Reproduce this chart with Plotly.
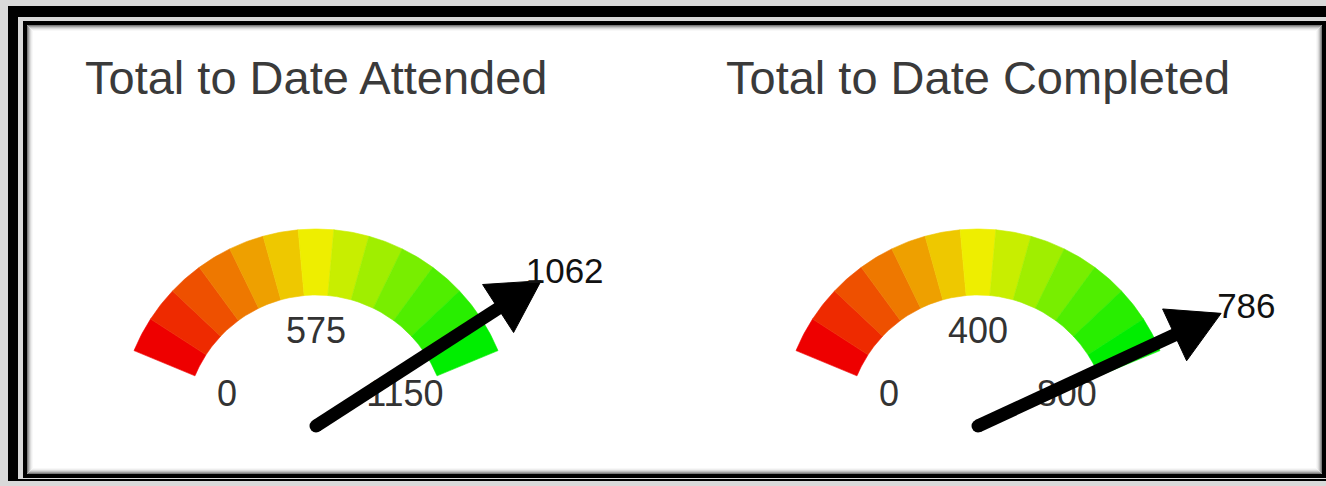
import numpy as np
import plotly.graph_objects as go

# ---------------- data ----------------
titles = ["Total to Date Attended", "Total to Date Completed"]
values = [1062, 786]
max_values = [1150, 800]
tick_labels = [["0", "575", "1150"], ["0", "400", "800"]]
band_colors = ["#EE0000", "#EE2A00", "#EE5000", "#EE7800", "#EEA000", "#EEC800",
               "#EEEE00", "#C8EE00", "#A0EE00", "#78EE00", "#50EE00", "#28EE00", "#00EE00"]

# ---------------- layout constants ----------------
W, H = 1326, 486
R_PX = 197.0                 # outer radius in px
INNER = 0.665                # inner radius (fraction of outer)
START_DEG, SPAN_DEG = 157.5, 135.0
centers_px = [(316, 426), (978, 426)]
domains_px = [(0, 663), (663, 1326)]
NEEDLE_LEN = 1.36
HEAD_LEN = 0.26
HEAD_HALF = 0.145
TICK_R = 0.48
TICK_PAD_DEG = 2.5           # tick labels sit slightly beyond the band ends
TICK_DY = -3 / R_PX
VALUE_R = 1.49
VALUE_DX, VALUE_DY = 2 / R_PX, -7 / R_PX
FONT = "Liberation Sans, Arial, sans-serif"


def theta(v, vmax, pad=0.0):
    return np.deg2rad(START_DEG + pad - (SPAN_DEG + 2 * pad) * v / vmax)


fig = go.Figure()

for g in range(2):
    xa = "x" if g == 0 else "x2"
    ya = "y" if g == 0 else "y2"
    vmax = max_values[g]
    n = len(band_colors)
    # colour bands
    for k, col in enumerate(band_colors):
        t = np.linspace(theta(k * vmax / n, vmax), theta((k + 1) * vmax / n, vmax), 12)
        xs = np.concatenate([np.cos(t), INNER * np.cos(t[::-1])])
        ys = np.concatenate([np.sin(t), INNER * np.sin(t[::-1])])
        fig.add_trace(go.Scatter(x=np.append(xs, xs[0]), y=np.append(ys, ys[0]),
                                 mode="lines", fill="toself", fillcolor=col,
                                 line=dict(color=col, width=0.6), hoverinfo="skip",
                                 showlegend=False, xaxis=xa, yaxis=ya))
    # tick labels at 0, mid, max
    tick_vals = [0, vmax / 2, vmax]
    tt = np.array([theta(v, vmax, TICK_PAD_DEG) for v in tick_vals])
    fig.add_trace(go.Scatter(x=TICK_R * np.cos(tt), y=TICK_R * np.sin(tt) + TICK_DY, mode="text",
                             text=tick_labels[g], textposition="middle center",
                             textfont=dict(family=FONT, size=36, color="#333333"),
                             hoverinfo="skip", showlegend=False, xaxis=xa, yaxis=ya))
    # needle
    a = theta(values[g], vmax)
    ux, uy = np.cos(a), np.sin(a)
    base_r = NEEDLE_LEN - HEAD_LEN
    fig.add_trace(go.Scatter(x=[0, base_r * ux + 0.02 * ux], y=[0, base_r * uy + 0.02 * uy],
                             mode="lines", line=dict(color="black", width=13),
                             hoverinfo="skip", showlegend=False, xaxis=xa, yaxis=ya))
    fig.add_trace(go.Scatter(x=[0], y=[0], mode="markers",
                             marker=dict(color="black", size=13, line=dict(width=0)),
                             hoverinfo="skip", showlegend=False, xaxis=xa, yaxis=ya))
    px_, py_ = -uy, ux
    hx = [NEEDLE_LEN * ux, base_r * ux + HEAD_HALF * px_, base_r * ux - HEAD_HALF * px_, NEEDLE_LEN * ux]
    hy = [NEEDLE_LEN * uy, base_r * uy + HEAD_HALF * py_, base_r * uy - HEAD_HALF * py_, NEEDLE_LEN * uy]
    fig.add_trace(go.Scatter(x=hx, y=hy, mode="lines", fill="toself", fillcolor="black",
                             line=dict(color="black", width=1), hoverinfo="skip",
                             showlegend=False, xaxis=xa, yaxis=ya))
    # value label
    fig.add_trace(go.Scatter(x=[VALUE_R * ux + VALUE_DX], y=[VALUE_R * uy + VALUE_DY], mode="text",
                             text=[str(values[g])], textposition="middle center",
                             textfont=dict(family=FONT, size=35, color="#111111"),
                             hoverinfo="skip", showlegend=False, xaxis=xa, yaxis=ya))


def pxx(x):
    return x / W


def pxy(y):
    return 1 - y / H


shapes = []


def rect(x0, y0, x1, y1, fill=None, line=None, lw=0):
    d = dict(type="rect", xref="paper", yref="paper", x0=pxx(x0), x1=pxx(x1),
             y0=pxy(y1), y1=pxy(y0), layer="below")
    if fill:
        d["fillcolor"] = fill
    d["line"] = dict(color=line or "rgba(0,0,0,0)", width=lw)
    shapes.append(d)


rect(8, 6, 1400, 481, fill="#000000")
rect(18, 17, 1400, 479, fill="#d9d9d9")
rect(23, 21, 1400, 478, fill="#000000")
rect(27, 25, 1322, 474, fill="#ffffff")
for i, c in enumerate(["#7a7a7a", "#a0a0a0", "#c2c2c2", "#dcdcdc", "#eeeeee", "#f8f8f8"]):
    rect(27 + i + 0.5, 25 + i + 0.5, 1322 - i - 0.5, 474 - i - 0.5, line=c, lw=1)

annotations = []
for g in range(2):
    annotations.append(dict(text=titles[g], xref="paper", yref="paper",
                            x=pxx(centers_px[g][0]), y=pxy(77), xanchor="center", yanchor="middle",
                            showarrow=False, font=dict(family=FONT, size=47, color="#3a3a3a")))

layout_axes = {}
for g in range(2):
    cx, cy = centers_px[g]
    d0, d1 = domains_px[g]
    sx = "xaxis" if g == 0 else "xaxis2"
    sy = "yaxis" if g == 0 else "yaxis2"
    layout_axes[sx] = dict(domain=[d0 / W, d1 / W], range=[(d0 - cx) / R_PX, (d1 - cx) / R_PX],
                           visible=False, fixedrange=True)
    layout_axes[sy] = dict(domain=[0, 1], range=[(cy - H) / R_PX, cy / R_PX],
                           visible=False, fixedrange=True, anchor="x" if g == 0 else "x2")
layout_axes["xaxis2"]["anchor"] = "y2"

fig.update_layout(width=W, height=H, margin=dict(l=0, r=0, t=0, b=0),
                  paper_bgcolor="#d9d9d9", plot_bgcolor="rgba(0,0,0,0)",
                  shapes=shapes, annotations=annotations, hovermode=False,
                  showlegend=False, **layout_axes)

fig.write_html("out.html", config={"displayModeBar": False},
               post_script="document.body.style.margin='0';document.body.style.overflow='hidden';")
